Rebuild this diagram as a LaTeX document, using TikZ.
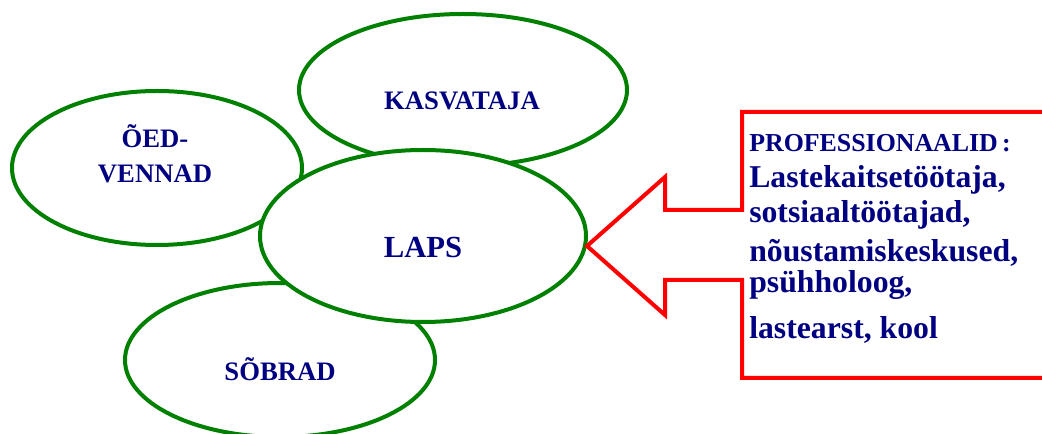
\documentclass[tikz,border=0pt]{standalone}
\usepackage{fontspec}
\setmainfont{Liberation Serif}
\usepackage{tikz}
\usetikzlibrary{shapes.geometric}
\definecolor{darkgreen}{rgb}{0,0.5,0}
\definecolor{navytext}{rgb}{0,0,0.5}
\definecolor{callred}{rgb}{1,0,0}
\tikzset{
  blob/.style={ellipse,draw=darkgreen,line width=3pt,fill=white,inner sep=0pt},
  lbl/.style={text=navytext,font=\bfseries\fontsize{20}{26}\selectfont,align=center,inner sep=0pt},
  prof/.style={text=navytext,font=\bfseries\fontsize{23.8}{28}\selectfont,inner sep=0pt,anchor=base west},
}

\begin{document}
\begin{tikzpicture}[x=0.75pt,y=-0.75pt]
      \useasboundingbox (0,0) rectangle (1042,434);
      % family round the child
      \node[blob,minimum width=246pt,minimum height=114pt] (kasvataja) at (463,90) {};
      \node[lbl] (kasvataja-t) at (462,101) {KASVATAJA};
      \node[blob,minimum width=217.5pt,minimum height=115.5pt] (oed) at (157,168) {};
      \node[lbl] (oed-t) at (155,154) {ÕED-\\VENNAD};
      \node[blob,minimum width=232.5pt,minimum height=115.5pt] (sobrad) at (280,360) {};
      \node[lbl] (sobrad-t) at (280,369) {SÕBRAD};
      \node[blob,minimum width=244.5pt,minimum height=129pt] (laps) at (423,236) {};
      \node[lbl,font=\bfseries\fontsize{23}{28}\selectfont] (laps-t) at (423,247) {LAPS};
      % professionals callout
      \coordinate (tip) at (587,246);
      \draw[callred,line width=3pt,line join=miter]
        (1060,112) -- (742,112) -- (742,210) -- (665,210) -- (665,177) -- (tip)
        -- (665,315) -- (665,280) -- (742,280) -- (742,378) -- (1060,378);
      \node[prof,font=\bfseries\fontsize{19.4}{24}\selectfont] (pro0) at (749,152) {PROFESSIONAALID\,:};
      \node[prof] (pro1) at (749,188) {Lastekaitsetöötaja,};
      \node[prof] (pro2) at (749,223) {sotsiaaltöötajad,};
      \node[prof] (pro3) at (749,262) {nõustamiskeskused,};
      \node[prof] (pro4) at (749,293) {psühholoog,};
      \node[prof] (pro5) at (749,339) {lastearst, kool};
\end{tikzpicture}
\end{document}
